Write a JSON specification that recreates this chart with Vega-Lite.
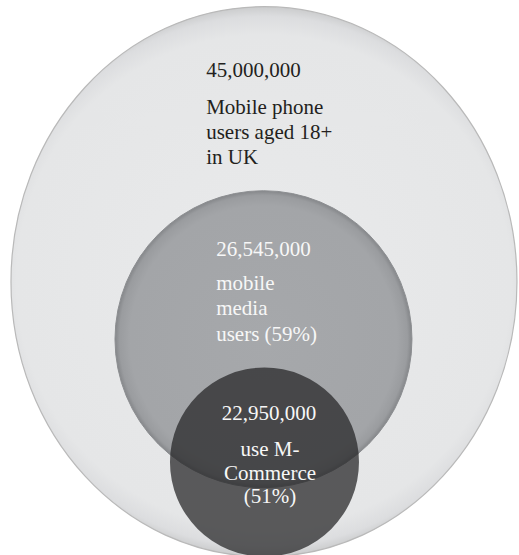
{
  "$schema": "https://vega.github.io/schema/vega-lite/v6.json",
  "width": 519,
  "height": 555,
  "autosize": {"type": "fit", "contains": "padding"},
  "padding": 0,
  "background": "white",
  "config": {"view": {"stroke": null}},
  "datasets": {
    "circles": [
      {"segment": "Mobile phone users aged 18+ in UK", "value": 45000000, "cx": 265, "cy": 289},
      {"segment": "mobile media users", "value": 26545000, "cx": 264.5, "cy": 348},
      {"segment": "use M-Commerce", "value": 22950000, "cx": 265.5, "cy": 474}
    ],
    "labels": [
      {"segment": "Mobile phone users aged 18+ in UK", "text": "45,000,000", "tx": 207, "ty": 79},
      {"segment": "Mobile phone users aged 18+ in UK", "text": "Mobile phone\nusers aged 18+\nin UK", "tx": 207, "ty": 117},
      {"segment": "mobile media users", "text": "26,545,000", "tx": 217, "ty": 263},
      {"segment": "mobile media users", "text": "mobile\nmedia\nusers (59%)", "tx": 217, "ty": 297},
      {"segment": "use M-Commerce", "text": "22,950,000", "tx": 270, "ty": 431},
      {"segment": "use M-Commerce", "text": "use M-\nCommerce\n(51%)", "tx": 271, "ty": 468}
    ]
  },
  "layer": [
    {
      "data": {"name": "circles"},
      "transform": [{"filter": "datum.segment === 'Mobile phone users aged 18+ in UK'"}],
      "mark": {
        "type": "point",
        "filled": true,
        "opacity": 1,
        "size": 256036,
        "shape": "M 1 0 C 1 0.6 0.5523 1.087 0 1.087 C -0.5523 1.087 -1 0.6 -1 0 C -1 -0.6 -0.5523 -1.087 0 -1.087 C 0.5523 -1.087 1 -0.6 1 0 Z",
        "fill": {"gradient": "radial", "stops": [
          {"offset": 0, "color": "#e9eaeb"},
          {"offset": 0.9, "color": "#e5e6e7"},
          {"offset": 0.965, "color": "#dcdddf"},
          {"offset": 1, "color": "#cbcccd"}
        ]},
        "stroke": "#b9b9b9",
        "strokeWidth": 1.2
      },
      "encoding": {
        "x": {"field": "cx", "type": "quantitative", "scale": {"domain": [0, 519], "nice": false, "zero": false}, "axis": null},
        "y": {"field": "cy", "type": "quantitative", "scale": {"domain": [0, 555], "nice": false, "zero": false, "reverse": true}, "axis": null}
      }
    },
    {
      "data": {"name": "circles"},
      "transform": [{"filter": "datum.segment === 'mobile media users'"}],
      "mark": {
        "type": "point",
        "filled": true,
        "opacity": 1,
        "size": 88209,
        "shape": "circle",
        "fill": {"gradient": "radial", "stops": [
          {"offset": 0, "color": "#a6a8ab"},
          {"offset": 0.9, "color": "#a3a5a8"},
          {"offset": 0.97, "color": "#9a9c9f"},
          {"offset": 1, "color": "#85878a"}
        ]},
        "stroke": "#8c8e91",
        "strokeWidth": 1
      },
      "encoding": {
        "x": {"field": "cx", "type": "quantitative", "scale": {"domain": [0, 519], "nice": false, "zero": false}, "axis": null},
        "y": {"field": "cy", "type": "quantitative", "scale": {"domain": [0, 555], "nice": false, "zero": false, "reverse": true}, "axis": null}
      }
    },
    {
      "data": {"name": "circles"},
      "transform": [{"filter": "datum.segment === 'use M-Commerce'"}],
      "mark": {
        "type": "point",
        "filled": true,
        "opacity": 0.72,
        "size": 35721,
        "shape": "circle",
        "fill": "#222224",
        "strokeWidth": 0
      },
      "encoding": {
        "x": {"field": "cx", "type": "quantitative", "scale": {"domain": [0, 519], "nice": false, "zero": false}, "axis": null},
        "y": {"field": "cy", "type": "quantitative", "scale": {"domain": [0, 555], "nice": false, "zero": false, "reverse": true}, "axis": null}
      }
    },
    {
      "data": {"name": "labels"},
      "transform": [{"filter": "datum.segment === 'Mobile phone users aged 18+ in UK'"}],
      "mark": {"type": "text", "font": "Liberation Serif", "fontSize": 21, "align": "left", "baseline": "alphabetic", "lineBreak": "\n", "lineHeight": 25, "color": "#231f20"},
      "encoding": {
        "x": {"field": "tx", "type": "quantitative", "scale": {"domain": [0, 519], "nice": false, "zero": false}, "axis": null},
        "y": {"field": "ty", "type": "quantitative", "scale": {"domain": [0, 555], "nice": false, "zero": false, "reverse": true}, "axis": null},
        "text": {"field": "text", "type": "nominal"}
      }
    },
    {
      "data": {"name": "labels"},
      "transform": [{"filter": "datum.segment === 'mobile media users'"}],
      "mark": {"type": "text", "font": "Liberation Serif", "fontSize": 21, "align": "left", "baseline": "alphabetic", "lineBreak": "\n", "lineHeight": 25.5, "color": "#f7f7f7"},
      "encoding": {
        "x": {"field": "tx", "type": "quantitative", "scale": {"domain": [0, 519], "nice": false, "zero": false}, "axis": null},
        "y": {"field": "ty", "type": "quantitative", "scale": {"domain": [0, 555], "nice": false, "zero": false, "reverse": true}, "axis": null},
        "text": {"field": "text", "type": "nominal"}
      }
    },
    {
      "data": {"name": "labels"},
      "transform": [{"filter": "datum.segment === 'use M-Commerce'"}],
      "mark": {"type": "text", "font": "Liberation Serif", "fontSize": 21, "align": "center", "baseline": "alphabetic", "lineBreak": "\n", "lineHeight": 23.5, "color": "#f7f7f7"},
      "encoding": {
        "x": {"field": "tx", "type": "quantitative", "scale": {"domain": [0, 519], "nice": false, "zero": false}, "axis": null},
        "y": {"field": "ty", "type": "quantitative", "scale": {"domain": [0, 555], "nice": false, "zero": false, "reverse": true}, "axis": null},
        "text": {"field": "text", "type": "nominal"}
      }
    }
  ]
}
